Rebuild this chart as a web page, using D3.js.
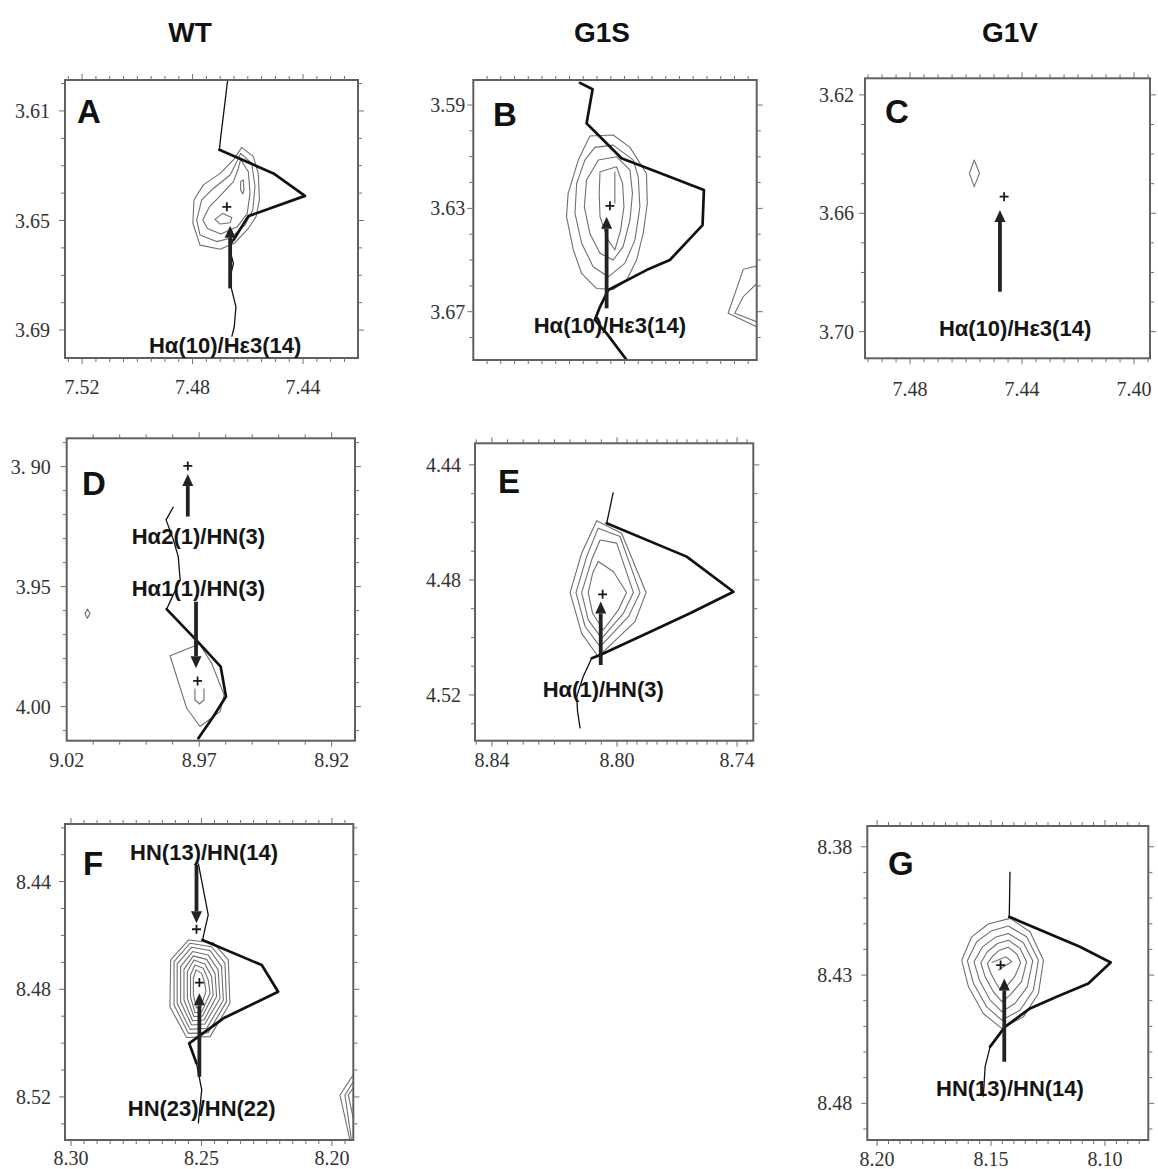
<!DOCTYPE html>
<html>
<head>
<meta charset="utf-8">
<script src="https://cdn.jsdelivr.net/npm/d3@7"></script>
<style>
  body { margin: 0; background: #fff; }
  svg { display: block; }
</style>
</head>
<body>
<svg id="fig" width="1158" height="1169"></svg>
<script>
// ---------- column titles ----------
const columnTitles = ["WT", "G1S", "G1V"];

// ---------- axis ticks (ppm) ----------
const xTicksA = [7.52, 7.48, 7.44], yTicksA = [3.61, 3.65, 3.69];
const xTicksB = [],                 yTicksB = [3.59, 3.63, 3.67];
const xTicksC = [7.48, 7.44, 7.40], yTicksC = [3.62, 3.66, 3.70];
const xTicksD = [9.02, 8.97, 8.92], yTicksD = [3.90, 3.95, 4.00];
const yTickTextD = ["3. 90", "3.95", "4.00"];
const xTicksE = [8.84, 8.80, 8.74], yTicksE = [4.44, 4.48, 4.52];
const xTicksF = [8.30, 8.25, 8.20], yTicksF = [8.44, 8.48, 8.52];
const xTicksG = [8.20, 8.15, 8.10], yTicksG = [8.38, 8.43, 8.48];

// ---------- A : WT, Hα(10)/Hε3(14) ----------
const contoursA = [
  [[7.4622,3.6233],[7.4580,3.6267],[7.4562,3.6328],[7.4558,3.6425],[7.4570,3.6486],[7.4598,3.6529],[7.4646,3.6581],[7.4700,3.6605],[7.4773,3.6590],[7.4799,3.6510],[7.4795,3.6425],[7.4761,3.6370],[7.4700,3.6328],[7.4652,3.6279]],
  [[7.4626,3.6255],[7.4586,3.6291],[7.4574,3.6376],[7.4582,3.6462],[7.4610,3.6516],[7.4664,3.6565],[7.4713,3.6577],[7.4773,3.6553],[7.4785,3.6498],[7.4767,3.6425],[7.4725,3.6383],[7.4664,3.6334],[7.4640,3.6285]],
  [[7.4626,3.6277],[7.4598,3.6322],[7.4592,3.6401],[7.4602,3.6474],[7.4638,3.6523],[7.4698,3.6549],[7.4746,3.6529],[7.4763,3.6498],[7.4739,3.6450],[7.4698,3.6407],[7.4652,3.6358],[7.4634,3.6309]],
  [[7.4719,3.6496],[7.4691,3.6474],[7.4658,3.6489],[7.4664,3.6508],[7.4700,3.6513]],
  [[7.4626,3.6358],[7.4616,3.6352],[7.4614,3.6389],[7.4618,3.6403],[7.4626,3.6389]]
];
const openContoursA = [];
const sliceA = [
  [[7.4673,3.5987],[7.4686,3.6096],[7.4698,3.6194],[7.4703,3.6242]],
  [[7.4652,3.6571],[7.4667,3.6602],[7.4652,3.6657],[7.4667,3.6717],[7.4643,3.6815],[7.4649,3.6888],[7.4658,3.6924]]
];
const sliceBoldA = [
  [[7.4703,3.6242],[7.4507,3.6328],[7.4393,3.6410],[7.4598,3.6484],[7.4652,3.6571]]
];
const peaksA = [[7.4676, 3.6450]];
const arrowsA = [{ from: [7.4664, 3.6748], to: [7.4664, 3.6519] }];
const notesA = [{ text: "Hα(10)/Hε3(14)", at: [7.4682, 3.6955] }];

// ---------- B : G1S, Hα(10)/Hε3(14) ----------
const contoursB = [
  [[7.4876,3.6020],[7.4791,3.6016],[7.4730,3.6064],[7.4670,3.6165],[7.4667,3.6281],[7.4682,3.6397],[7.4706,3.6500],[7.4742,3.6577],[7.4791,3.6614],[7.4852,3.6610],[7.4906,3.6552],[7.4936,3.6461],[7.4961,3.6332],[7.4955,3.6242],[7.4918,3.6113]],
  [[7.4858,3.6064],[7.4791,3.6055],[7.4718,3.6113],[7.4700,3.6177],[7.4694,3.6294],[7.4712,3.6423],[7.4749,3.6513],[7.4809,3.6565],[7.4864,3.6526],[7.4906,3.6435],[7.4930,3.6319],[7.4924,3.6203],[7.4894,3.6113]],
  [[7.4845,3.6113],[7.4779,3.6100],[7.4730,3.6152],[7.4721,3.6242],[7.4730,3.6345],[7.4755,3.6448],[7.4791,3.6500],[7.4839,3.6474],[7.4876,3.6397],[7.4896,3.6294],[7.4888,3.6190]],
  [[7.4839,3.6158],[7.4779,3.6139],[7.4757,3.6203],[7.4752,3.6294],[7.4764,3.6384],[7.4785,3.6461],[7.4813,3.6416],[7.4839,3.6332],[7.4842,3.6242]]
];
const openContoursB = [
  [[7.4785,3.6158],[7.4785,3.6281]],
  [[7.4255,3.6519],[7.4318,3.6536],[7.4373,3.6706],[7.4255,3.6765]],
  [[7.4255,3.6577],[7.4318,3.6642],[7.4349,3.6706],[7.4255,3.6745]]
];
const sliceB = [];
const sliceBoldB = [
  [[7.4912,3.5814],[7.4866,3.5839],[7.4888,3.5971],[7.4839,3.6023],[7.4761,3.6106],[7.4633,3.6158],[7.4461,3.6229],[7.4466,3.6365],[7.4585,3.6500],[7.4670,3.6539],[7.4809,3.6616],[7.4839,3.6681],[7.4858,3.6732],[7.4815,3.6784],[7.4742,3.6887]]
];
const peaksB = [[7.4803, 3.6290]];
const arrowsB = [{ from: [7.4815, 3.6687], to: [7.4815, 3.6332] }];
const notesB = [{ text: "Hα(10)/Hε3(14)", at: [7.4803, 3.6752] }];

// ---------- C : G1V, Hα(10)/Hε3(14) ----------
const contoursC = [
  [[7.4571,3.6420],[7.4552,3.6465],[7.4571,3.6510],[7.4588,3.6465]]
];
const openContoursC = [];
const sliceC = [];
const sliceBoldC = [];
const peaksC = [[7.4464, 3.6544]];
const arrowsC = [{ from: [7.4479, 3.6865], to: [7.4479, 3.6589] }];
const notesC = [{ text: "Hα(10)/Hε3(14)", at: [7.4425, 3.6988] }];

// ---------- D : WT, Hα(1)/HN(3) ----------
const contoursD = [
  [[8.9810,3.9788],[8.9699,3.9739],[8.9653,3.9819],[8.9606,3.9951],[8.9621,4.0021],[8.9697,4.0083],[8.9747,4.0007]],
  [[9.0122,3.9594],[9.0112,3.9611],[9.0122,3.9632],[9.0131,3.9611]]
];
const openContoursD = [
  [[8.9716,3.9924],[8.9716,3.9972],[8.9699,3.9989],[8.9682,3.9972],[8.9682,3.9924]]
];
const sliceD = [
  [[8.9797,3.9167],[8.9825,3.9222],[8.9797,3.9306],[8.9779,3.9375],[8.9772,3.9472],[8.9804,3.9549],[8.9823,3.9594]]
];
const sliceBoldD = [
  [[8.9823,3.9594],[8.9709,3.9725],[8.9619,3.9833],[8.9599,3.9958],[8.9647,4.0042],[8.9703,4.0132]]
];
const peaksD = [[8.9743, 3.8997], [8.9706, 3.9893]];
const arrowsD = [
  { from: [8.9743, 3.9208], to: [8.9743, 3.9031] },
  { from: [8.9712, 3.9563], to: [8.9712, 3.9840] }
];
const notesD = [
  { text: "Hα2(1)/HN(3)", at: [8.9703, 3.9289] },
  { text: "Hα1(1)/HN(3)", at: [8.9703, 3.9507] }
];

// ---------- E : G1S, Hα(1)/HN(3) ----------
const contoursE = [
  [[8.8065,4.4594],[8.7977,4.4638],[8.7855,4.4844],[8.7910,4.4945],[8.8060,4.5067],[8.8113,4.4986],[8.8150,4.4844],[8.8113,4.4707]],
  [[8.8060,4.4620],[8.7985,4.4649],[8.7885,4.4844],[8.7943,4.4928],[8.8054,4.5032],[8.8102,4.4962],[8.8131,4.4844],[8.8097,4.4719]],
  [[8.8054,4.4661],[8.8001,4.4672],[8.7918,4.4844],[8.7968,4.4916],[8.8049,4.5003],[8.8092,4.4939],[8.8113,4.4844],[8.8081,4.4730]],
  [[8.8060,4.4736],[8.8012,4.4771],[8.7952,4.4844],[8.7993,4.4904],[8.8044,4.4974],[8.8078,4.4916],[8.8092,4.4844],[8.8078,4.4777]]
];
const openContoursE = [];
const sliceE = [
  [[8.8012,4.4496],[8.8033,4.4603]],
  [[8.8081,4.5072],[8.8108,4.5136],[8.8129,4.5206],[8.8126,4.5258],[8.8118,4.5316]]
];
const sliceBoldE = [
  [[8.8033,4.4603],[8.7652,4.4719],[8.7418,4.4841],[8.7635,4.4916],[8.7852,4.4986],[8.8054,4.5061],[8.8081,4.5072]]
];
const peaksE = [[8.8046, 4.4850]];
const arrowsE = [{ from: [8.8052, 4.5096], to: [8.8052, 4.4875] }];
const notesE = [{ text: "Hα(1)/HN(3)", at: [8.8044, 4.5180] }];

// ---------- F : WT, HN/HN ----------
const contoursF = [
  [[8.2550,8.4617],[8.2455,8.4627],[8.2397,8.4691],[8.2391,8.4852],[8.2467,8.4976],[8.2557,8.4979],[8.2621,8.4865],[8.2618,8.4691]],
  [[8.2544,8.4629],[8.2461,8.4642],[8.2410,8.4703],[8.2404,8.4846],[8.2474,8.4961],[8.2550,8.4964],[8.2605,8.4858],[8.2605,8.4697]],
  [[8.2538,8.4644],[8.2467,8.4656],[8.2423,8.4716],[8.2416,8.4840],[8.2480,8.4945],[8.2544,8.4949],[8.2593,8.4852],[8.2593,8.4706]],
  [[8.2534,8.4660],[8.2474,8.4673],[8.2436,8.4728],[8.2429,8.4834],[8.2487,8.4929],[8.2538,8.4933],[8.2580,8.4846],[8.2580,8.4716]],
  [[8.2531,8.4676],[8.2480,8.4689],[8.2448,8.4741],[8.2442,8.4827],[8.2490,8.4914],[8.2534,8.4917],[8.2567,8.4840],[8.2567,8.4726]],
  [[8.2529,8.4691],[8.2487,8.4706],[8.2461,8.4753],[8.2455,8.4821],[8.2496,8.4899],[8.2529,8.4902],[8.2554,8.4834],[8.2554,8.4734]],
  [[8.2525,8.4710],[8.2493,8.4722],[8.2474,8.4765],[8.2467,8.4815],[8.2499,8.4884],[8.2525,8.4887],[8.2542,8.4827],[8.2542,8.4747]],
  [[8.2521,8.4728],[8.2499,8.4741],[8.2487,8.4778],[8.2483,8.4809],[8.2503,8.4867],[8.2519,8.4869],[8.2531,8.4821],[8.2531,8.4759]]
];
const openContoursF = [
  [[8.1906,8.5100],[8.1969,8.5193],[8.1931,8.5360]],
  [[8.1906,8.5125],[8.1950,8.5193],[8.1925,8.5360]],
  [[8.1906,8.5149],[8.1937,8.5193],[8.1906,8.5335]]
];
const sliceF = [
  [[8.2512,8.4332],[8.2474,8.4524],[8.2496,8.4617]],
  [[8.2519,8.5075],[8.2499,8.5174],[8.2512,8.5298]]
];
const sliceBoldF = [
  [[8.2496,8.4617],[8.2269,8.4710],[8.2206,8.4809],[8.2416,8.4908],[8.2547,8.5001],[8.2519,8.5075]]
];
const peaksF = [[8.2519, 8.4577], [8.2508, 8.4775]];
const arrowsF = [
  { from: [8.2519, 8.4338], to: [8.2519, 8.4555] },
  { from: [8.2508, 8.5125], to: [8.2508, 8.4815] }
];
const notesF = [
  { text: "HN(13)/HN(14)", at: [8.2490, 8.4289] },
  { text: "HN(23)/HN(22)", at: [8.2499, 8.5242] }
];

// ---------- G : G1V, HN(13)/HN(14) ----------
const contoursG = [
  [[8.1512,8.4101],[8.1417,8.4079],[8.1329,8.4131],[8.1270,8.4242],[8.1292,8.4372],[8.1358,8.4463],[8.1453,8.4508],[8.1534,8.4450],[8.1599,8.4346],[8.1629,8.4242],[8.1585,8.4151]],
  [[8.1497,8.4127],[8.1424,8.4109],[8.1344,8.4151],[8.1292,8.4242],[8.1314,8.4359],[8.1373,8.4437],[8.1453,8.4476],[8.1519,8.4424],[8.1577,8.4333],[8.1604,8.4244],[8.1563,8.4170]],
  [[8.1482,8.4153],[8.1424,8.4138],[8.1358,8.4174],[8.1317,8.4244],[8.1341,8.4346],[8.1395,8.4411],[8.1453,8.4443],[8.1504,8.4398],[8.1551,8.4320],[8.1575,8.4248],[8.1537,8.4190]],
  [[8.1472,8.4177],[8.1424,8.4164],[8.1373,8.4196],[8.1344,8.4248],[8.1366,8.4326],[8.1417,8.4378],[8.1453,8.4404],[8.1490,8.4365],[8.1526,8.4307],[8.1545,8.4252],[8.1516,8.4209]],
  [[8.1463,8.4203],[8.1424,8.4192],[8.1387,8.4218],[8.1370,8.4252],[8.1395,8.4304],[8.1431,8.4343],[8.1458,8.4359],[8.1482,8.4326],[8.1504,8.4287],[8.1516,8.4255],[8.1493,8.4226]]
];
const openContoursG = [
  [[8.1497,8.4251],[8.1434,8.4229],[8.1409,8.4248],[8.1446,8.4268],[8.1468,8.4281]]
];
const sliceG = [
  [[8.1417,8.3897],[8.1420,8.4073]],
  [[8.1504,8.4579],[8.1526,8.4657],[8.1534,8.4774]]
];
const sliceBoldG = [
  [[8.1420,8.4073],[8.1110,8.4190],[8.0975,8.4251],[8.1073,8.4333],[8.1212,8.4385],[8.1329,8.4430],[8.1439,8.4502],[8.1504,8.4579]]
];
const peaksG = [[8.1458, 8.4261]];
const arrowsG = [{ from: [8.1442, 8.4638], to: [8.1442, 8.4313] }];
const notesG = [{ text: "HN(13)/HN(14)", at: [8.1417, 8.4742] }];

// ---------- panel layout (frame in px, ppm at frame edges) ----------
const fmt = d3.format(".2f");
const panels = [
  { letter: "A", frame: [65, 80, 358, 358], xDom: [7.5262, 7.4201], yDom: [3.5987, 3.7002],
    xTicks: xTicksA, yTicks: yTicksA, xMinor: 0.005, yMinor: 0.01, yGap: 15, xBase: 394, letterPos: [77, 123],
    contours: contoursA, open: openContoursA, slice: sliceA, sliceBold: sliceBoldA, peaks: peaksA, arrows: arrowsA, notes: notesA },
  { letter: "B", frame: [473.3, 80, 756.7, 360], xDom: [7.53, 7.4269], yDom: [3.5803, 3.6887],
    xTicks: xTicksB, yTicks: yTicksB, xMinor: 0.005, yMinor: 0.01, yGap: 8, xBase: 396, letterPos: [493, 126],
    contours: contoursB, open: openContoursB, slice: sliceB, sliceBold: sliceBoldB, peaks: peaksB, arrows: arrowsB, notes: notesB },
  { letter: "C", frame: [865, 78.3, 1150, 358.3], xDom: [7.4961, 7.3943], yDom: [3.6144, 3.7090],
    xTicks: xTicksC, yTicks: yTicksC, xMinor: 0.005, yMinor: 0.01, yGap: 11, xBase: 396, letterPos: [885, 123],
    contours: contoursC, open: openContoursC, slice: sliceC, sliceBold: sliceBoldC, peaks: peaksC, arrows: arrowsC, notes: notesC },
  { letter: "D", frame: [66.7, 438.3, 355, 740.7], xDom: [9.02, 8.9112], yDom: [3.8882, 4.0142],
    xTicks: xTicksD, yTicks: yTicksD, yText: yTickTextD, xMinor: 0.01, yMinor: 0.01, yGap: 16, xBase: 767, letterPos: [82, 495],
    contours: contoursD, open: openContoursD, slice: sliceD, sliceBold: sliceBoldD, peaks: peaksD, arrows: arrowsD, notes: notesD },
  { letter: "E", frame: [475, 443.3, 753.3, 740.7], xDom: [8.8454, 8.80, 8.7319], xRange: [475, 617, 753.3], yDom: [4.4325, 4.5359],
    xTicks: xTicksE, yTicks: yTicksE, xMinor: 0.005, yMinor: 0.01, yGap: 14, xBase: 767, letterPos: [498, 493],
    contours: contoursE, open: openContoursE, slice: sliceE, sliceBold: sliceBoldE, peaks: peaksE, arrows: arrowsE, notes: notesE },
  { letter: "F", frame: [65, 824, 353.3, 1140], xDom: [8.3023, 8.1918], yDom: [8.4186, 8.5360],
    xTicks: xTicksF, yTicks: yTicksF, xMinor: 0.005, yMinor: 0.01, yGap: 14, xBase: 1165, letterPos: [83, 875],
    contours: contoursF, open: openContoursF, slice: sliceF, sliceBold: sliceBoldF, peaks: peaksF, arrows: arrowsF, notes: notesF },
  { letter: "G", frame: [867.3, 826, 1148.3, 1140], xDom: [8.2043, 8.0810], yDom: [8.3719, 8.4943],
    xTicks: xTicksG, yTicks: yTicksG, xMinor: 0.005, yMinor: 0.01, yGap: 15, xBase: 1166, letterPos: [888, 875],
    contours: contoursG, open: openContoursG, slice: sliceG, sliceBold: sliceBoldG, peaks: peaksG, arrows: arrowsG, notes: notesG }
];
const titleX = [190, 602, 1010];

// ---------- drawing ----------
const svg = d3.select("#fig");
svg.append("rect").attr("width", 1158).attr("height", 1169).attr("fill", "#fff");

const sansBold = "'Liberation Sans', Arial, sans-serif";
const serif = "'Liberation Serif', 'Times New Roman', serif";

svg.selectAll("text.col").data(columnTitles).join("text")
  .attr("class", "col")
  .attr("x", (d, i) => titleX[i]).attr("y", 42)
  .attr("text-anchor", "middle")
  .attr("font-family", sansBold)
  .attr("font-weight", "bold").attr("font-size", 28)
  .attr("fill", "#111")
  .text(d => d);

function rangeTicks(dom, step) {
  const lo = Math.min(...dom), hi = Math.max(...dom);
  const out = [];
  for (let k = Math.ceil(lo / step - 1e-6); k * step <= hi + 1e-9; k++) out.push(+(k * step).toFixed(4));
  return out;
}

panels.forEach(p => {
  const [x0, y0, x1, y1] = p.frame;
  const x = d3.scaleLinear().domain(p.xDom).range(p.xRange || [x0, x1]);
  const y = d3.scaleLinear().domain(p.yDom).range([y0, y1]);
  const g = svg.append("g").attr("class", "panel-" + p.letter);

  const clipId = "clip-" + p.letter;
  svg.append("defs").append("clipPath").attr("id", clipId)
    .append("rect").attr("x", x0).attr("y", y0).attr("width", x1 - x0).attr("height", y1 - y0);

  const line = d3.line().x(d => x(d[0])).y(d => y(d[1]));
  const closed = d3.line().x(d => x(d[0])).y(d => y(d[1])).curve(d3.curveLinearClosed);

  const plot = g.append("g").attr("clip-path", `url(#${clipId})`);

  // contour levels
  plot.selectAll("path.ct").data(p.contours).join("path")
    .attr("class", "ct").attr("d", closed)
    .attr("fill", "none").attr("stroke", "#6f6f6f").attr("stroke-width", 1.1)
    .attr("stroke-linejoin", "round");
  plot.selectAll("path.ctopen").data(p.open).join("path")
    .attr("class", "ctopen").attr("d", line)
    .attr("fill", "none").attr("stroke", "#6f6f6f").attr("stroke-width", 1.1);

  // 1D slice through the cross peak
  plot.selectAll("path.sl").data(p.slice).join("path")
    .attr("class", "sl").attr("d", line)
    .attr("fill", "none").attr("stroke", "#111").attr("stroke-width", 1.3)
    .attr("stroke-linejoin", "round");
  plot.selectAll("path.slb").data(p.sliceBold).join("path")
    .attr("class", "slb").attr("d", line)
    .attr("fill", "none").attr("stroke", "#111").attr("stroke-width", 2.7)
    .attr("stroke-linejoin", "round").attr("stroke-linecap", "round");

  // peak positions
  const cs = 4.5;
  plot.selectAll("path.pk").data(p.peaks).join("path")
    .attr("class", "pk")
    .attr("d", d => {
      const px = x(d[0]), py = y(d[1]);
      return `M${px - cs},${py}H${px + cs}M${px},${py - cs}V${py + cs}`;
    })
    .attr("stroke", "#1a1a1a").attr("stroke-width", 1.8);

  // arrows
  const headL = 12, headW = 5.5;
  p.arrows.forEach(a => {
    const fx = x(a.from[0]), fy = y(a.from[1]), tx = x(a.to[0]), ty = y(a.to[1]);
    const len = Math.hypot(tx - fx, ty - fy), ux = (tx - fx) / len, uy = (ty - fy) / len;
    const bx = tx - ux * headL, by = ty - uy * headL;
    g.append("line").attr("x1", fx).attr("y1", fy).attr("x2", bx).attr("y2", by)
      .attr("stroke", "#222").attr("stroke-width", 3.8);
    g.append("path")
      .attr("d", `M${tx},${ty}L${bx - uy * headW},${by + ux * headW}L${bx + uy * headW},${by - ux * headW}Z`)
      .attr("fill", "#222");
  });

  // frame
  g.append("rect").attr("x", x0).attr("y", y0).attr("width", x1 - x0).attr("height", y1 - y0)
    .attr("fill", "none").attr("stroke", "#606060").attr("stroke-width", 2);

  // tick marks on all four sides
  const tk = g.append("g").attr("stroke", "#707070").attr("stroke-width", 1);
  const major = (v, arr) => arr.some(t => Math.abs(t - v) < 1e-6);
  rangeTicks(p.xDom, p.xMinor).forEach(v => {
    const px = x(v); if (px < x0 + 1 || px > x1 - 1) return;
    const L = major(v, p.xTicks) ? 6 : 4;
    tk.append("line").attr("x1", px).attr("x2", px).attr("y1", y1).attr("y2", y1 + L);
    tk.append("line").attr("x1", px).attr("x2", px).attr("y1", y0).attr("y2", y0 - L);
  });
  rangeTicks(p.yDom, p.yMinor).forEach(v => {
    const py = y(v); if (py < y0 + 1 || py > y1 - 1) return;
    const L = major(v, p.yTicks) ? 6 : 4;
    tk.append("line").attr("y1", py).attr("y2", py).attr("x1", x0).attr("x2", x0 - L);
    tk.append("line").attr("y1", py).attr("y2", py).attr("x1", x1).attr("x2", x1 + L);
  });

  // tick labels
  g.selectAll("text.xl").data(p.xTicks).join("text")
    .attr("class", "xl").attr("x", d => x(d)).attr("y", p.xBase)
    .attr("text-anchor", "middle").attr("font-family", serif).attr("font-size", 20)
    .attr("fill", "#333").text(d => fmt(d));
  g.selectAll("text.yl").data(p.yTicks).join("text")
    .attr("class", "yl").attr("x", x0 - p.yGap).attr("y", d => y(d)).attr("dy", "0.35em")
    .attr("text-anchor", "end").attr("font-family", serif).attr("font-size", 20)
    .attr("fill", "#333").text((d, i) => p.yText ? p.yText[i] : fmt(d));

  // panel letter
  g.append("text").attr("x", p.letterPos[0]).attr("y", p.letterPos[1])
    .attr("font-family", sansBold).attr("font-weight", "bold").attr("font-size", 33)
    .attr("fill", "#111").text(p.letter);

  // assignment labels
  g.selectAll("text.note").data(p.notes).join("text")
    .attr("class", "note").attr("x", d => x(d.at[0])).attr("y", d => y(d.at[1])).attr("dy", "0.36em")
    .attr("text-anchor", "middle").attr("font-family", sansBold).attr("font-weight", "bold")
    .attr("font-size", 22).attr("fill", "#151515").text(d => d.text);
});
</script>
</body>
</html>
